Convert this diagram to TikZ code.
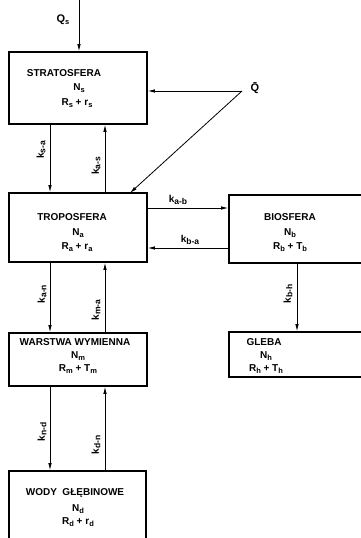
\documentclass[tikz,border=0pt]{standalone}
\usepackage{fontspec}
\setmainfont{Liberation Sans}
\usetikzlibrary{arrows.meta}
\tikzset{
  box/.style={draw, line width=1.6pt, rectangle, inner sep=0pt},
  txt/.style={inner sep=0pt, font=\fontsize{10}{12}\selectfont\bfseries},
  klab/.style={inner sep=0pt, font=\fontsize{10}{12}\selectfont\bfseries},
  arr/.style={line width=0.8pt, -{Latex[length=7pt,width=3.5pt]}},
}
\newcommand{\sbs}[1]{\raisebox{-0.35ex}{\fontsize{7.5}{8}\selectfont #1}}
\newcommand{\ksb}[1]{k\raisebox{-0.3ex}{\fontsize{8.5}{9}\selectfont #1}}
\begin{document}
\begin{tikzpicture}[x=1pt,y=-1pt]
\useasboundingbox (0,0) rectangle (361,538);
\clip (0,0) rectangle (361,538);
% boxes
\node[box, minimum width=138pt, minimum height=72pt] (strat) at (78,88) {};
\node[box, minimum width=138pt, minimum height=69pt] (tropo) at (78,227.5) {};
\node[box, minimum width=136pt, minimum height=68pt] (bio) at (297,229) {};
\node[box, minimum width=138pt, minimum height=53pt] (warst) at (78,359.5) {};
\node[box, minimum width=136pt, minimum height=45pt] (gleba) at (297,354.5) {};
\node[box, minimum width=137pt, minimum height=74pt] (wody) at (77.5,508) {};
% texts
\node[txt] (t1) at (64,73) {STRATOSFERA};
\node[txt] (t2) at (79,88) {N\sbs{s}};
\node[txt] (t3) at (77,103) {R\sbs{s} + r\sbs{s}};
\node[txt] (t4) at (72,217) {TROPOSFERA};
\node[txt] (t5) at (78,233) {N\sbs{a}};
\node[txt] (t6) at (77,247) {R\sbs{a} + r\sbs{a}};
\node[txt] (t7) at (290,217) {BIOSFERA};
\node[txt] (t8) at (290,233) {N\sbs{b}};
\node[txt] (t9) at (290,247) {R\sbs{b} + T\sbs{b}};
\node[txt] (t10) at (75,342) {WARSTWA WYMIENNA};
\node[txt] (t11) at (78,356) {N\sbs{m}};
\node[txt] (t12) at (78,369) {R\sbs{m} + T\sbs{m}};
\node[txt] (t13) at (264,342) {GLEBA};
\node[txt] (t14) at (266,356) {N\sbs{h}};
\node[txt] (t15) at (266,369) {R\sbs{h} + T\sbs{h}};
\node[txt] (t16) at (75,493) {WODY\ \ GŁĘBINOWE};
\node[txt] (t17) at (78,509) {N\sbs{d}};
\node[txt] (t18) at (78,522) {R\sbs{d} + r\sbs{d}};
% external inputs
\coordinate (qs) at (79,0);
\node[txt, font=\fontsize{11}{12}\selectfont\bfseries] (qsl) at (63,20) {Q\sbs{s}};
\coordinate (qbar) at (242,91);
\node[txt, font=\fontsize{11}{12}\selectfont\bfseries] (qbl) at (255,88) {\={Q}};
\coordinate (xl) at (50,0);
\coordinate (xr) at (105,0);
\coordinate (xb) at (297,0);
\coordinate (yab) at (0,208);
\coordinate (yba) at (0,248);
\coordinate (tin) at (130,193);
% connectors
\draw[arr] (qs) -- (strat.north -| qs);
\draw[arr] (qbar) -- (strat.east |- qbar);
\draw[arr] (qbar) -- (tin);
\draw[arr] (strat.south -| xl) -- (tropo.north -| xl);
\draw[arr] (tropo.north -| xr) -- (strat.south -| xr);
\draw[arr] (tropo.south -| xl) -- (warst.north -| xl);
\draw[arr] (warst.north -| xr) -- (tropo.south -| xr);
\draw[arr] (warst.south -| xl) -- (wody.north -| xl);
\draw[arr] (wody.north -| xr) -- (warst.south -| xr);
\draw[arr] (tropo.east |- yab) -- (bio.west |- yab);
\draw[arr] (bio.west |- yba) -- (tropo.east |- yba);
\draw[arr] (bio.south -| xb) -- (gleba.north -| xb);
% k labels
\node[klab, rotate=90] (k1) at (41,150) {\ksb{s-a}};
\node[klab, rotate=90] (k2) at (96,166) {\ksb{a-s}};
\node[klab, rotate=90] (k3) at (42,294) {\ksb{a-n}};
\node[klab, rotate=90] (k4) at (96,310) {\ksb{m-a}};
\node[klab, rotate=90] (k5) at (42,432) {\ksb{n-d}};
\node[klab, rotate=90] (k6) at (96,445) {\ksb{d-n}};
\node[klab, rotate=90] (k7) at (288,294) {\ksb{b-h}};
\node[klab] (k8) at (178,200) {\ksb{a-b}};
\node[klab] (k9) at (190,240) {\ksb{b-a}};
\end{tikzpicture}
\end{document}
